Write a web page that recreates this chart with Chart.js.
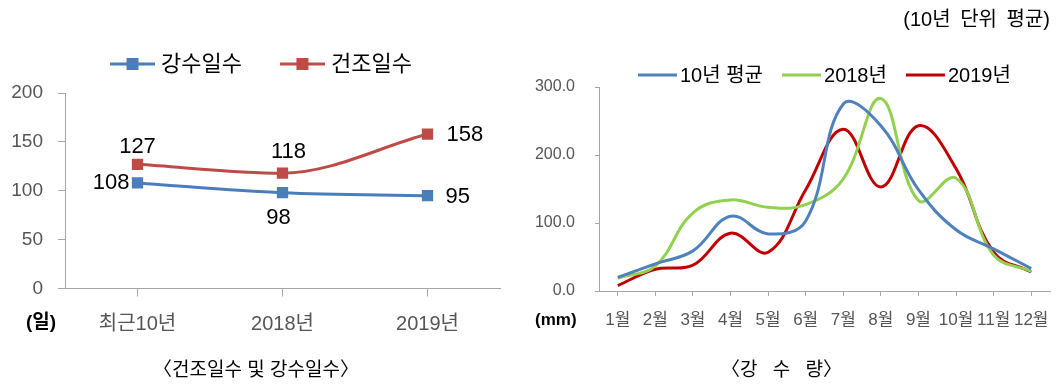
<!DOCTYPE html>
<html>
<head>
<meta charset="utf-8">
<script src="https://cdn.jsdelivr.net/npm/chart.js@4.4.0/dist/chart.umd.min.js"></script>
<style>
    body { margin: 0; background: #fff; }
    #wrap { position: relative; width: 1056px; height: 384px; overflow: hidden;
            font-family: "Liberation Sans", "Noto Sans CJK KR", sans-serif; }
    #wrap canvas { position: absolute; top: 0; }
    .txt { position: absolute; white-space: pre; line-height: 1; color: #000; }
</style>
</head>
<body>
<div id="wrap">
    <canvas id="daysCanvas" style="left:0" width="528" height="384"></canvas>
    <canvas id="rainCanvas" style="left:520px" width="536" height="384"></canvas>
    <div class="txt" style="right:6px; top:9px; font-size:20px; word-spacing:4px;">(10년 단위 평균)</div>
    <div class="txt" style="left:26px; top:312px; font-size:19px; font-weight:bold;">(일)</div>
    <div class="txt" style="left:535px; top:311px; font-size:17px; font-weight:bold;">(mm)</div>
    <div class="txt" style="left:153px; top:360px; font-size:19px;">〈건조일수 및 강수일수〉</div>
    <div class="txt" style="left:721px; top:360px; font-size:19px; word-spacing:10px;">〈강 수 량〉</div>
</div>
<script>
    // 건조일수 / 강수일수
    var dayLabels = ['최근10년', '2018년', '2019년'];
    var rainDays = [108, 98, 95];
    var dryDays = [127, 118, 158];

    // 월별 강수량 (mm)
    var monthLabels = ['1월', '2월', '3월', '4월', '5월', '6월', '7월', '8월', '9월', '10월', '11월', '12월'];
    var rainAvg10 = [20, 40, 59, 110, 84, 103, 275, 243, 149, 90, 62, 33];
    var rain2018 = [19, 37, 115, 134, 123, 127, 165, 283, 133, 166, 53, 29];
    var rain2019 = [8, 32, 38, 85, 57, 149, 238, 153, 243, 180, 57, 28];

    var colors = {
        blue: '#4a7ebb',
        red: '#be4b48',
        avg: '#4f81bd',
        green: '#92d050',
        darkRed: '#c00000',
        axis: '#a6a6a6',
        tick: '#555'
    };
    var FONT = '"Liberation Sans", "Noto Sans CJK KR", sans-serif';

    // legend drawn as line sample (+ optional square marker) followed by the label
    var lineLegend = {
        id: 'lineLegend',
        afterDraw: function (chart, args, opts) {
            var ctx = chart.ctx;
            var x = opts.x;
            ctx.save();
            ctx.font = opts.fontSize + 'px ' + FONT;
            ctx.textBaseline = 'middle';
            ctx.textAlign = 'left';
            chart.data.datasets.forEach(function (ds) {
                ctx.strokeStyle = ds.borderColor;
                ctx.lineWidth = ds.borderWidth;
                ctx.beginPath();
                ctx.moveTo(x, opts.y);
                ctx.lineTo(x + opts.sample, opts.y);
                ctx.stroke();
                if (opts.marker) {
                    ctx.fillStyle = ds.backgroundColor;
                    ctx.fillRect(x + opts.sample / 2 - opts.marker / 2, opts.y - opts.marker / 2, opts.marker, opts.marker);
                }
                x += opts.sample + opts.textGap;
                ctx.fillStyle = '#000';
                ctx.fillText(ds.label, x, opts.y + 1);
                x += ctx.measureText(ds.label).width + opts.itemGap;
            });
            ctx.restore();
        }
    };

    // value labels next to each point; offsets are [dx, dy, align] per dataset/point
    var valueLabels = {
        id: 'valueLabels',
        afterDatasetsDraw: function (chart, args, opts) {
            var ctx = chart.ctx;
            ctx.save();
            ctx.font = opts.fontSize + 'px ' + FONT;
            ctx.fillStyle = '#000';
            ctx.textBaseline = 'middle';
            chart.data.datasets.forEach(function (ds, di) {
                var meta = chart.getDatasetMeta(di);
                meta.data.forEach(function (pt, i) {
                    var o = opts.offsets[di][i];
                    ctx.textAlign = o[2];
                    ctx.fillText(String(ds.data[i]), pt.x + o[0], pt.y + o[1]);
                });
            });
            ctx.restore();
        }
    };

    function axisGrid(tickLength) {
        return {
            display: true,
            drawOnChartArea: false,
            drawTicks: true,
            tickLength: tickLength,
            color: colors.axis
        };
    }

    // fixed axis box so the plot area doesn't shift with label widths
    function fixHeight(h) {
        return function (scale) {
            scale.height = h;
            scale.paddingLeft = 0;
            scale.paddingRight = 0;
        };
    }

    function fixWidth(w) {
        return function (scale) {
            scale.width = w;
        };
    }

    function buildDaysChart() {
        var ctx = document.getElementById('daysCanvas').getContext('2d');
        function series(label, data, color) {
            return {
                label: label,
                data: data,
                borderColor: color,
                backgroundColor: color,
                borderWidth: 3,
                pointStyle: 'rect',
                pointRadius: 8,
                pointBorderWidth: 0,
                cubicInterpolationMode: 'monotone'
            };
        }
        return new Chart(ctx, {
            type: 'line',
            data: {
                labels: dayLabels,
                datasets: [
                    series('강수일수', rainDays, colors.blue),
                    series('건조일수', dryDays, colors.red)
                ]
            },
            options: {
                responsive: false,
                animation: false,
                layout: { padding: { top: 93, right: 28, left: 0, bottom: 0 } },
                plugins: {
                    legend: { display: false },
                    tooltip: { enabled: false },
                    lineLegend: { x: 110, y: 64, sample: 45, marker: 12, textGap: 6, itemGap: 38, fontSize: 22 },
                    valueLabels: {
                        fontSize: 22,
                        offsets: [
                            [[-8, 0, 'right'], [-4, 25, 'center'], [18, 1, 'left']],
                            [[0, -17, 'center'], [6, -21, 'center'], [19, 1, 'left']]
                        ]
                    }
                },
                scales: {
                    x: {
                        offset: true,
                        grid: axisGrid(8),
                        border: { display: true, color: colors.axis },
                        ticks: { color: colors.tick, font: { family: FONT, size: 20 }, padding: 16 },
                        afterFit: fixHeight(95.5)
                    },
                    y: {
                        min: 0,
                        max: 200,
                        grid: axisGrid(7),
                        border: { display: true, color: colors.axis },
                        ticks: { stepSize: 50, color: colors.tick, font: { family: FONT, size: 19 }, padding: 15 },
                        afterFit: fixWidth(65)
                    }
                }
            },
            plugins: [lineLegend, valueLabels]
        });
    }

    function buildRainChart() {
        var ctx = document.getElementById('rainCanvas').getContext('2d');
        function series(label, data, color) {
            return {
                label: label,
                data: data,
                borderColor: color,
                backgroundColor: color,
                borderWidth: 3,
                pointRadius: 0,
                tension: 0.4
            };
        }
        return new Chart(ctx, {
            type: 'line',
            data: {
                labels: monthLabels,
                datasets: [
                    series('10년 평균', rainAvg10, colors.avg),
                    series('2018년', rain2018, colors.green),
                    series('2019년', rain2019, colors.darkRed)
                ]
            },
            options: {
                responsive: false,
                animation: false,
                layout: { padding: { top: 87, right: 6, left: 0, bottom: 0 } },
                plugins: {
                    legend: { display: false },
                    tooltip: { enabled: false },
                    lineLegend: { x: 118, y: 75, sample: 39, marker: 0, textGap: 3, itemGap: 19, fontSize: 20 }
                },
                scales: {
                    x: {
                        offset: true,
                        grid: axisGrid(5),
                        border: { display: true, color: colors.axis },
                        ticks: { color: colors.tick, font: { family: FONT, size: 17 }, padding: 14, autoSkip: false, maxRotation: 0 },
                        afterFit: fixHeight(93)
                    },
                    y: {
                        min: 0,
                        max: 300,
                        grid: axisGrid(4),
                        border: { display: true, color: colors.axis },
                        ticks: {
                            stepSize: 100,
                            color: colors.tick,
                            font: { family: FONT, size: 16 },
                            padding: 20,
                            callback: function (v) { return v.toFixed(1); }
                        },
                        afterFit: fixWidth(79)
                    }
                }
            },
            plugins: [lineLegend]
        });
    }

    buildDaysChart();
    buildRainChart();
</script>
</body>
</html>
